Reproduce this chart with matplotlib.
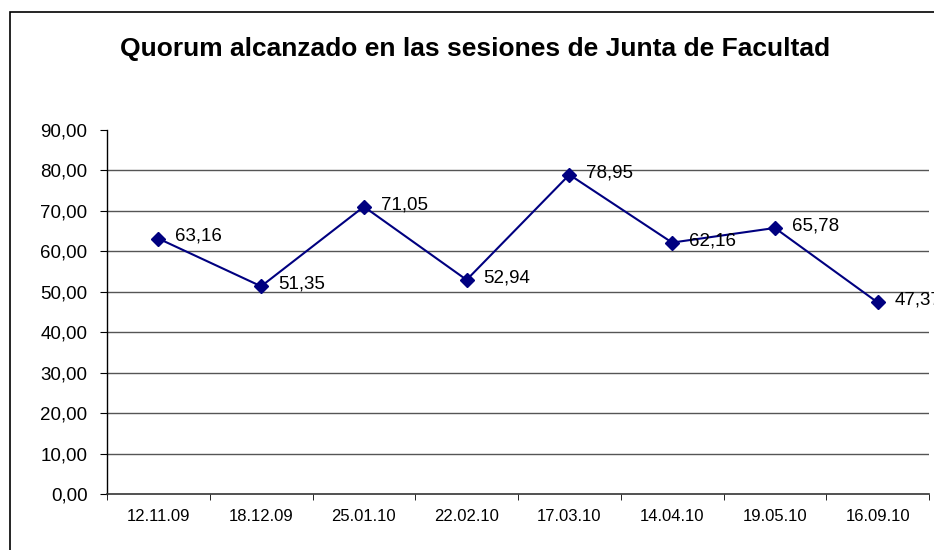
import matplotlib
matplotlib.use("Agg")
import matplotlib.pyplot as plt
from matplotlib.patches import Rectangle

plt.rcParams['font.family'] = ['Liberation Sans', 'DejaVu Sans']

categories = ["12.11.09", "18.12.09", "25.01.10", "22.02.10", "17.03.10", "14.04.10", "19.05.10", "16.09.10"]
values = [63.16, 51.35, 71.05, 52.94, 78.95, 62.16, 65.78, 47.37]
yticks = [0, 10, 20, 30, 40, 50, 60, 70, 80, 90]
title = "Quorum alcanzado en las sesiones de Junta de Facultad"

W, H = 934, 550
fig = plt.figure(figsize=(W / 100, H / 100), dpi=100)
fig.patch.set_facecolor("white")

# chart border
fig.patches.append(Rectangle((10 / W, -0.1), 1.2, 1 - 12 / H + 0.1, transform=fig.transFigure,
                             fill=False, edgecolor="black", linewidth=1.2))

ax = fig.add_axes([107 / W, 1 - 494 / H, (929 - 107) / W, (494 - 130) / H])
x = list(range(len(categories)))
ax.plot(x, values, color="#000080", linewidth=1.5, marker="D", markersize=7.5,
        markerfacecolor="#000080", markeredgecolor="#000080", zorder=3)

for xi, v in zip(x, values):
    ax.annotate(f"{v:.2f}".replace(".", ","), (xi, v), xytext=(12, 1.5), textcoords="offset points",
                ha="left", va="center", fontsize=13.5, color="black", annotation_clip=False)

ax.set_xlim(-0.5, len(categories) - 0.5)
ax.set_ylim(0, 90)
ax.set_yticks(yticks)
ax.set_yticklabels([f"{t:.2f}".replace(".", ",") for t in yticks], fontsize=13.5)
for t in yticks[1:-1]:
    ax.axhline(t, color="#555555", linewidth=1, zorder=1)

ax.set_xticks(x)
ax.set_xticklabels(categories, fontsize=12, family=['Liberation Sans Narrow', 'Liberation Sans'])
ax.set_xticks([i - 0.5 for i in range(len(categories) + 1)], minor=True)
ax.tick_params(axis="x", which="major", length=0, pad=11)
ax.tick_params(axis="x", which="minor", length=4, direction="out", color="black")
ax.tick_params(axis="y", length=5, direction="out", color="black", pad=9)

for s in ["top", "right"]:
    ax.spines[s].set_visible(False)
ax.spines["left"].set_color("black")
ax.spines["bottom"].set_color("#333333")
ax.spines["left"].set_linewidth(1)
ax.spines["bottom"].set_linewidth(1.2)

fig.text(475 / W, 1 - 49 / H, title, ha="center", va="center", fontsize=19, fontweight="bold")

fig.savefig("out.png", dpi=100)
